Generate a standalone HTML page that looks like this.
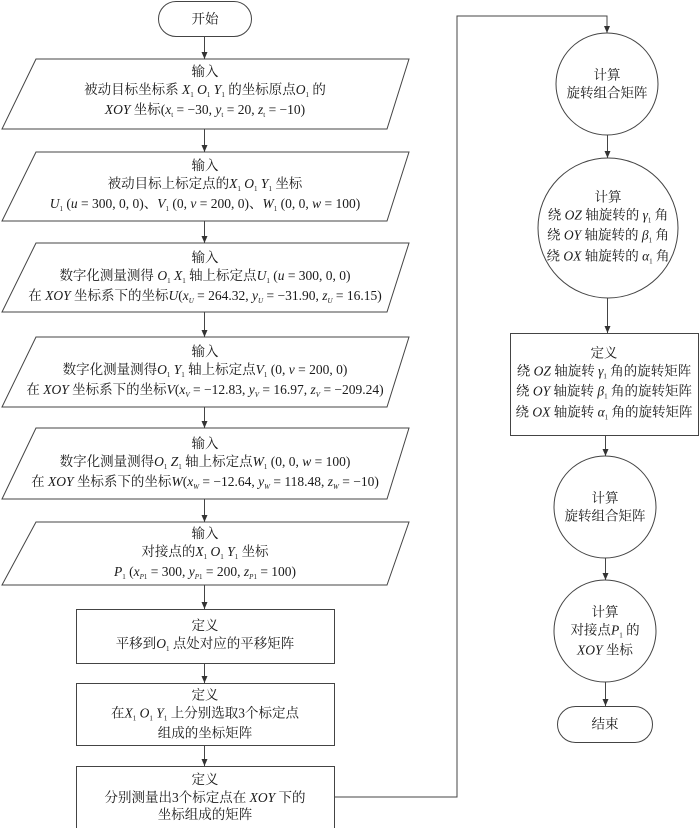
<!DOCTYPE html>
<html><head><meta charset="utf-8">
<style>
html,body{margin:0;padding:0;background:#fff;}
body{width:700px;height:828px;position:relative;overflow:hidden;font-family:"Liberation Serif","Noto Serif CJK SC",serif;color:#1a1a1a;}
svg{position:absolute;left:0;top:0;}
.t{position:absolute;text-align:center;font-size:13.5px;line-height:17.5px;white-space:nowrap;transform:translate(-50%,-50%);}
i{font-style:italic;}
sub{font-size:7px;vertical-align:baseline;position:relative;top:3px;font-style:normal;}
sub i{font-style:italic;}
</style></head><body>
<svg width="700" height="828" viewBox="0 0 700 828">
<defs><marker id="a" markerWidth="8" markerHeight="8" refX="7" refY="4" orient="auto" markerUnits="userSpaceOnUse"><path d="M0,1 L7,4 L0,7 Z" fill="#333"/></marker></defs>
<g fill="none" stroke="#444" stroke-width="1">
<rect x="158.5" y="1.5" width="93" height="35" rx="17.5"/>
<polygon points="36,59 409,59 387,129 2,129"/>
<polygon points="36,152 409,152 387,221 2,221"/>
<polygon points="36,243 409,243 387,312 2,312"/>
<polygon points="36,337 409,337 387,407 2,407"/>
<polygon points="36,428 409,428 387,499 2,499"/>
<polygon points="36,522 409,522 387,585 2,585"/>
<rect x="76.5" y="609.5" width="258" height="54"/>
<rect x="76.5" y="683.5" width="258" height="62"/>
<rect x="76.5" y="766.5" width="258" height="62"/>
<circle cx="607" cy="84" r="51"/>
<circle cx="608" cy="228" r="70"/>
<rect x="510.5" y="333.5" width="188" height="102"/>
<circle cx="605" cy="507" r="51"/>
<circle cx="605" cy="631" r="51"/>
<rect x="557.5" y="706.5" width="95" height="36" rx="18"/>
<g marker-end="url(#a)">
<line x1="204.5" y1="37" x2="204.5" y2="59"/>
<line x1="204.5" y1="129" x2="204.5" y2="152"/>
<line x1="204.5" y1="221" x2="204.5" y2="243"/>
<line x1="204.5" y1="312" x2="204.5" y2="337"/>
<line x1="204.5" y1="407" x2="204.5" y2="428"/>
<line x1="204.5" y1="499" x2="204.5" y2="522"/>
<line x1="204.5" y1="585" x2="204.5" y2="609"/>
<line x1="204.5" y1="664" x2="204.5" y2="683"/>
<line x1="204.5" y1="746" x2="204.5" y2="766"/>
<polyline points="335,797 457,797 457,16 607,16 607,33"/>
<line x1="607.5" y1="135" x2="607.5" y2="158"/>
<line x1="607.5" y1="298" x2="607.5" y2="333"/>
<line x1="605.5" y1="436" x2="605.5" y2="456"/>
<line x1="605.5" y1="558" x2="605.5" y2="580"/>
<line x1="605.5" y1="682" x2="605.5" y2="706"/>
</g></g></svg>

<div class="t" style="left:205px;top:19px">开始</div>
<div class="t" style="left:205px;top:92px">输入<br>被动目标坐标系 <i>X</i><sub>1</sub> <i>O</i><sub>1</sub> <i>Y</i><sub>1</sub> 的坐标原点<i>O</i><sub>1</sub> 的<br><i>XOY</i> 坐标(<i>x</i><sub>t</sub> = −30, <i>y</i><sub>t</sub> = 20, <i>z</i><sub>t</sub> = −10)</div>
<div class="t" style="left:205px;top:186px">输入<br>被动目标上标定点的<i>X</i><sub>1</sub> <i>O</i><sub>1</sub> <i>Y</i><sub>1</sub> 坐标<br><i>U</i><sub>1</sub> (<i>u</i> = 300, 0, 0)、<i>V</i><sub>1</sub> (0, <i>v</i> = 200, 0)、<i>W</i><sub>1</sub> (0, 0, <i>w</i> = 100)</div>
<div class="t" style="left:205px;top:278px">输入<br>数字化测量测得 <i>O</i><sub>1</sub> <i>X</i><sub>1</sub> 轴上标定点<i>U</i><sub>1</sub> (<i>u</i> = 300, 0, 0)<br>在 <i>XOY</i> 坐标系下的坐标<i>U</i>(<i>x<sub><i>U</i></sub></i> = 264.32, <i>y<sub><i>U</i></sub></i> = −31.90, <i>z<sub><i>U</i></sub></i> = 16.15)</div>
<div class="t" style="left:205px;top:372px">输入<br>数字化测量测得<i>O</i><sub>1</sub> <i>Y</i><sub>1</sub> 轴上标定点<i>V</i><sub>1</sub> (0, <i>v</i> = 200, 0)<br>在 <i>XOY</i> 坐标系下的坐标<i>V</i>(<i>x<sub><i>V</i></sub></i> = −12.83, <i>y<sub><i>V</i></sub></i> = 16.97, <i>z<sub><i>V</i></sub></i> = −209.24)</div>
<div class="t" style="left:205px;top:464px">输入<br>数字化测量测得<i>O</i><sub>1</sub> <i>Z</i><sub>1</sub> 轴上标定点<i>W</i><sub>1</sub> (0, 0, <i>w</i> = 100)<br>在 <i>XOY</i> 坐标系下的坐标<i>W</i>(<i>x<sub><i>W</i></sub></i> = −12.64, <i>y<sub><i>W</i></sub></i> = 118.48, <i>z<sub><i>W</i></sub></i> = −10)</div>
<div class="t" style="left:205px;top:554px">输入<br>对接点的<i>X</i><sub>1</sub> <i>O</i><sub>1</sub> <i>Y</i><sub>1</sub> 坐标<br><i>P</i><sub>1</sub> (<i>x<sub><i>P</i>1</sub></i> = 300, <i>y<sub><i>P</i>1</sub></i> = 200, <i>z<sub><i>P</i>1</sub></i> = 100)</div>
<div class="t" style="left:205px;top:636px">定义<br>平移到<i>O</i><sub>1</sub> 点处对应的平移矩阵</div>
<div class="t" style="left:205px;top:714px">定义<br>在<i>X</i><sub>1</sub> <i>O</i><sub>1</sub> <i>Y</i><sub>1</sub> 上分别选取3个标定点<br>组成的坐标矩阵</div>
<div class="t" style="left:205px;top:797px">定义<br>分别测量出3个标定点在 <i>XOY</i> 下的<br>坐标组成的矩阵</div>
<div class="t" style="left:607px;top:84px">计算<br>旋转组合矩阵</div>
<div class="t" style="left:608px;top:228px">计算<br>绕 <i>OZ</i> 轴旋转的 <i>γ</i><sub>1</sub> 角<br>绕 <i>OY</i> 轴旋转的 <i>β</i><sub>1</sub> 角<br>绕 <i>OX</i> 轴旋转的 <i>α</i><sub>1</sub> 角</div>
<div class="t" style="left:604px;top:384px">定义<br>绕 <i>OZ</i> 轴旋转 <i>γ</i><sub>1</sub> 角的旋转矩阵<br>绕 <i>OY</i> 轴旋转 <i>β</i><sub>1</sub> 角的旋转矩阵<br>绕 <i>OX</i> 轴旋转 <i>α</i><sub>1</sub> 角的旋转矩阵</div>
<div class="t" style="left:605px;top:507px">计算<br>旋转组合矩阵</div>
<div class="t" style="left:605px;top:631px">计算<br>对接点<i>P</i><sub>1</sub> 的<br><i>XOY</i> 坐标</div>
<div class="t" style="left:605px;top:724px">结束</div>
</body></html>
